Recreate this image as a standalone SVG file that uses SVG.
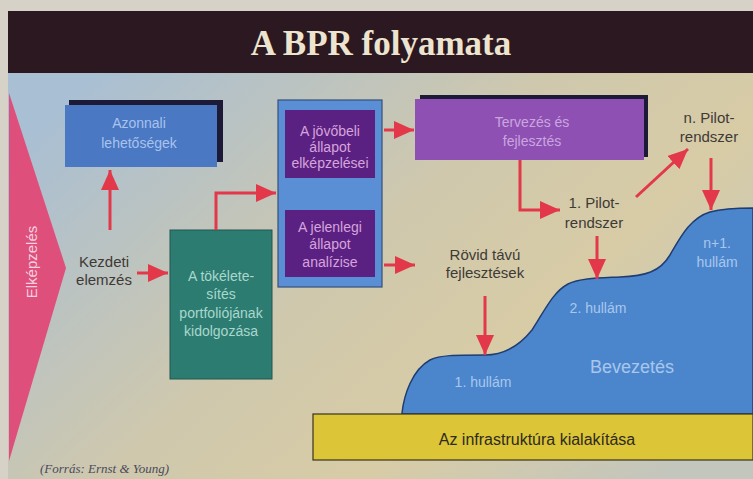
<svg xmlns="http://www.w3.org/2000/svg" width="753" height="479" viewBox="0 0 753 479">
<defs>
<linearGradient id="bg" x1="0" y1="0.2" x2="1" y2="0.8">
<stop offset="0" stop-color="#a9bfd3"/>
<stop offset="0.45" stop-color="#cfc8ad"/>
<stop offset="0.7" stop-color="#d8cca6"/>
<stop offset="1" stop-color="#c3c6bd"/>
</linearGradient>
<marker id="ah" markerUnits="userSpaceOnUse" markerWidth="20" markerHeight="18" refX="20" refY="9" orient="auto">
<path d="M0,0 L20,9 L0,18 z" fill="#e2384a"/>
</marker>
<style>
.conn{fill:none;stroke:#e2384a;stroke-width:3;marker-end:url(#ah)}
.lbl{font-family:"Liberation Sans",Arial,sans-serif;font-size:15px;fill:#3e3a36;text-anchor:middle}
.box{font-family:"Liberation Sans",Arial,sans-serif;font-size:14px;text-anchor:middle}
.wave{font-family:"Liberation Sans",Arial,sans-serif;font-size:14px;fill:#a9c6ec;text-anchor:middle}
.big{font-size:18px}
.shadow{fill:#1c1a36}
</style>
</defs>
<rect x="0" y="0" width="753" height="479" fill="#d6d2c8"/>
<rect x="8" y="72" width="745" height="407" fill="url(#bg)"/>
<g id="title">
<rect x="8" y="11" width="745" height="62" fill="#2c1820"/>
<text x="381" y="55" font-family="Liberation Serif,Times New Roman,serif" font-weight="bold" font-size="35" fill="#ede4cf" text-anchor="middle">A BPR folyamata</text>
</g>
<g id="elkepzeles">
<polygon points="9,93 66,268 9,461" fill="#de4f7c"/>
<text transform="translate(37,262) rotate(-90)" font-family="Liberation Sans,Arial,sans-serif" font-size="15" fill="#f6d0de" text-anchor="middle">Elképzelés</text>
</g>
<g id="bevezetes">
<path d="M402,413 C404,395 412,370 430,360 C440,355 455,355 485,355 C505,355 520,345 532,330 C545,310 553,292 568,284 C580,278 600,278 620,277 C645,276 660,272 670,255 C680,238 690,218 710,212 C725,208 740,208 753,208 L753,414 L402,414 z" fill="#4b86cd" stroke="#1f3d72" stroke-width="1.5"/>
<text class="wave" x="717" y="248">n+1.</text>
<text class="wave" x="717" y="267">hullám</text>
<text class="wave" x="598" y="313">2. hullám</text>
<text class="wave big" x="632" y="373">Bevezetés</text>
<text class="wave" x="483" y="387">1. hullám</text>
</g>
<g id="infrastruktura">
<rect x="313" y="414" width="440" height="46" fill="#dcc536" stroke="#3a3320" stroke-width="1.2"/>
<text x="537" y="445" font-family="Liberation Sans,Arial,sans-serif" font-size="16" fill="#2e2a1e" text-anchor="middle">Az infrastruktúra kialakítása</text>
</g>
<g id="azonnali">
<rect class="shadow" x="69" y="100" width="154" height="62"/>
<rect x="65" y="105" width="152" height="62" fill="#4a78c2"/>
<text class="box" x="139" y="128" fill="#a8c3ee">Azonnali</text>
<text class="box" x="139" y="148" fill="#a8c3ee">lehetőségek</text>
</g>
<g id="kezdeti">
<text class="lbl" x="104" y="267">Kezdeti</text>
<text class="lbl" x="104" y="285">elemzés</text>
</g>
<g id="portfolio">
<rect x="170" y="230" width="102" height="149" fill="#2d7c72" stroke="#23544e" stroke-width="1"/>
<text class="box" x="221" y="281" fill="#a8d8cc">A tökélete-</text>
<text class="box" x="221" y="299" fill="#a8d8cc">sítés</text>
<text class="box" x="221" y="318" fill="#a8d8cc">portfoliójának</text>
<text class="box" x="221" y="336" fill="#a8d8cc">kidolgozása</text>
</g>
<g id="allapot">
<rect x="278" y="100" width="104" height="187" fill="#5a8fd6" stroke="#34507a" stroke-width="1.2"/>
<rect x="285" y="110" width="90" height="68" fill="#5b2182"/>
<text class="box" x="330" y="136" fill="#d6a4dc">A jövőbeli</text>
<text class="box" x="330" y="152" fill="#d6a4dc">állapot</text>
<text class="box" x="330" y="168" fill="#d6a4dc">elképzelései</text>
<rect x="285" y="210" width="90" height="67" fill="#5b2182"/>
<text class="box" x="330" y="232" fill="#d6a4dc">A jelenlegi</text>
<text class="box" x="330" y="249" fill="#d6a4dc">állapot</text>
<text class="box" x="330" y="267" fill="#d6a4dc">analízise</text>
</g>
<g id="tervezes">
<rect class="shadow" x="420" y="95" width="228" height="62"/>
<rect x="415" y="99" width="229" height="61" fill="#8e50b2"/>
<text class="box" x="532" y="127" fill="#caa6e0">Tervezés és</text>
<text class="box" x="532" y="146" fill="#caa6e0">fejlesztés</text>
</g>
<g id="pilot1">
<text class="lbl" x="594" y="208">1. Pilot-</text>
<text class="lbl" x="594" y="228">rendszer</text>
</g>
<g id="pilotn">
<text class="lbl" x="709" y="123">n. Pilot-</text>
<text class="lbl" x="709" y="142">rendszer</text>
</g>
<g id="rovid">
<text class="lbl" x="485" y="260">Rövid távú</text>
<text class="lbl" x="485" y="278">fejlesztések</text>
</g>
<g id="forras">
<text x="40" y="473" font-family="Liberation Serif,Times New Roman,serif" font-style="italic" font-size="13" fill="#4a4a5a">(Forrás: Ernst &amp; Young)</text>
</g>
<g id="connectors">
<path class="conn" d="M110,230 V170"/>
<path class="conn" d="M137,273 H168"/>
<path class="conn" d="M216,230 V193 H276"/>
<path class="conn" d="M384,130 H414"/>
<path class="conn" d="M384,265 H415"/>
<path class="conn" d="M520,160 V210 H560"/>
<path class="conn" d="M636,197 L688,149"/>
<path class="conn" d="M711,158 V210"/>
<path class="conn" d="M597,236 V279"/>
<path class="conn" d="M485,296 V355"/>
</g>
</svg>
